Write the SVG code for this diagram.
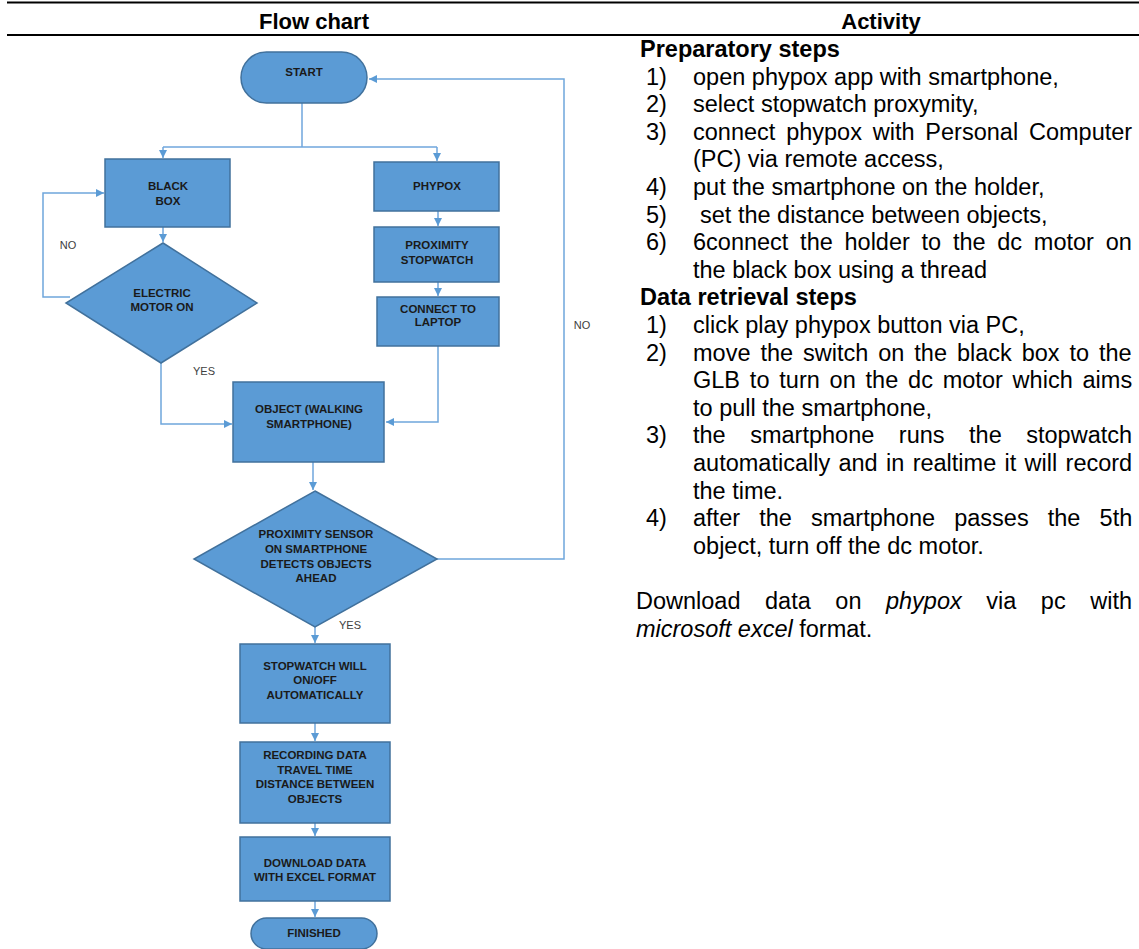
<svg xmlns="http://www.w3.org/2000/svg" width="1139" height="949" viewBox="0 0 1139 949">
<style>
.node{fill:#5B9BD5;stroke:#41719C;stroke-width:1.5}
.nt{font-family:"Liberation Sans",Arial,sans-serif;font-weight:bold;font-size:11.5px;fill:#1a1a1a;text-anchor:middle}
.lbl{font-family:"Liberation Sans",Arial,sans-serif;font-size:11px;fill:#404040;text-anchor:middle}
.con{fill:none;stroke:#6FA6DC;stroke-width:1.5}
.arr{marker-end:url(#ah)}
.hd{font-family:"Liberation Sans",Arial,sans-serif;font-weight:bold;font-size:22px;fill:#000;text-anchor:middle}
.tx{font-family:"Liberation Sans",Arial,sans-serif;font-size:23.5px;fill:#000}
.bd{font-weight:bold}
.rule{stroke:#000;stroke-width:2}
</style>
<defs>
<marker id="ah" markerUnits="userSpaceOnUse" markerWidth="9" markerHeight="9" refX="8" refY="4.5" orient="auto">
<path d="M0,0.5 L8,4.5 L0,8.5 z" fill="#5B9BD5"/>
</marker>
</defs>
<rect width="1139" height="949" fill="#fff"/>

<g id="table-header">
<line class="rule" x1="7" y1="2.5" x2="1139" y2="2.5"/>
<line class="rule" x1="7" y1="35" x2="1139" y2="35"/>
<text class="hd" x="314" y="29">Flow chart</text>
<text class="hd" x="881" y="29">Activity</text>
</g>

<g id="connectors">
<path class="con" d="M302,103 V147"/>
<path class="con" d="M163,147 H437"/>
<path class="con arr" d="M163,147 V158"/>
<path class="con arr" d="M437,147 V161"/>
<path class="con arr" d="M163,227 V242"/>
<path class="con arr" d="M70,297 H43 V193 H104"/>
<path class="con arr" d="M161,363 V424 H232"/>
<path class="con arr" d="M438,211 V226"/>
<path class="con arr" d="M438,282 V296"/>
<path class="con arr" d="M438,346 V422 H386"/>
<path class="con arr" d="M313,462 V490"/>
<path class="con arr" d="M437,559 H564 V79 H369"/>
<path class="con arr" d="M315,627 V643"/>
<path class="con arr" d="M315,723 V741"/>
<path class="con arr" d="M315,823 V836"/>
<path class="con arr" d="M315,901 V917"/>
<text class="lbl" x="68" y="249">NO</text>
<text class="lbl" x="204" y="375">YES</text>
<text class="lbl" x="582" y="329">NO</text>
<text class="lbl" x="350" y="629">YES</text>
</g>

<g id="start">
<rect class="node" x="241" y="52" width="126" height="51" rx="25.5"/>
<text class="nt" x="304" y="76">START</text>
</g>
<g id="black-box">
<rect class="node" x="105" y="159" width="125" height="68"/>
<text class="nt" x="168" y="190">BLACK</text>
<text class="nt" x="168" y="205">BOX</text>
</g>
<g id="phypox">
<rect class="node" x="374" y="162" width="125" height="49"/>
<text class="nt" x="437" y="190">PHYPOX</text>
</g>
<g id="proximity-stopwatch">
<rect class="node" x="374" y="227" width="125" height="55"/>
<text class="nt" x="437" y="249">PROXIMITY</text>
<text class="nt" x="437" y="264">STOPWATCH</text>
</g>
<g id="connect-laptop">
<rect class="node" x="377" y="297" width="122" height="49"/>
<text class="nt" x="438" y="313">CONNECT TO</text>
<text class="nt" x="438" y="326">LAPTOP</text>
</g>
<g id="electric-motor">
<polygon class="node" points="163,243 257,303 161,363 66,303"/>
<text class="nt" x="162" y="297">ELECTRIC</text>
<text class="nt" x="162" y="311">MOTOR ON</text>
</g>
<g id="object">
<rect class="node" x="233" y="382" width="151" height="80"/>
<text class="nt" x="309" y="413">OBJECT (WALKING</text>
<text class="nt" x="309" y="428">SMARTPHONE)</text>
</g>
<g id="proximity-sensor">
<polygon class="node" points="315,491 437,559 315,627 194,559"/>
<text class="nt" x="316" y="538">PROXIMITY SENSOR</text>
<text class="nt" x="316" y="553">ON SMARTPHONE</text>
<text class="nt" x="316" y="568">DETECTS OBJECTS</text>
<text class="nt" x="316" y="582">AHEAD</text>
</g>
<g id="stopwatch-auto">
<rect class="node" x="240" y="644" width="150" height="79"/>
<text class="nt" x="315" y="670">STOPWATCH WILL</text>
<text class="nt" x="315" y="684">ON/OFF</text>
<text class="nt" x="315" y="699">AUTOMATICALLY</text>
</g>
<g id="recording">
<rect class="node" x="240" y="742" width="150" height="81"/>
<text class="nt" x="315" y="759">RECORDING DATA</text>
<text class="nt" x="315" y="774">TRAVEL TIME</text>
<text class="nt" x="315" y="788">DISTANCE BETWEEN</text>
<text class="nt" x="315" y="803">OBJECTS</text>
</g>
<g id="download">
<rect class="node" x="240" y="837" width="150" height="64"/>
<text class="nt" x="315" y="867">DOWNLOAD DATA</text>
<text class="nt" x="315" y="881">WITH EXCEL FORMAT</text>
</g>
<g id="finished">
<rect class="node" x="251" y="918" width="126" height="31" rx="15.5"/>
<text class="nt" x="314" y="937">FINISHED</text>
</g>

<g id="activity">
<text class="tx bd" x="640" y="57">Preparatory steps</text>
<text class="tx" x="646" y="84.6">1)</text>
<text class="tx" x="693" y="84.6">open phypox app with smartphone,</text>
<text class="tx" x="646" y="112.2">2)</text>
<text class="tx" x="693" y="112.2">select stopwatch proxymity,</text>
<text class="tx" x="646" y="139.8">3)</text>
<text class="tx" x="693" y="139.8" word-spacing="4.3">connect phypox with Personal Computer</text>
<text class="tx" x="693" y="167.4">(PC) via remote access,</text>
<text class="tx" x="646" y="195">4)</text>
<text class="tx" x="693" y="195">put the smartphone on the holder,</text>
<text class="tx" x="646" y="222.6">5)</text>
<text class="tx" x="700" y="222.6">set the distance between objects,</text>
<text class="tx" x="646" y="250.2">6)</text>
<text class="tx" x="693" y="250.2" word-spacing="5.2">6connect the holder to the dc motor on</text>
<text class="tx" x="693" y="277.8">the black box using a thread</text>
<text class="tx bd" x="640" y="305.4">Data retrieval steps</text>
<text class="tx" x="646" y="333">1)</text>
<text class="tx" x="693" y="333">click play phypox button via PC,</text>
<text class="tx" x="646" y="360.6">2)</text>
<text class="tx" x="693" y="360.6" word-spacing="3.4">move the switch on the black box to the</text>
<text class="tx" x="693" y="388.2" word-spacing="3.3">GLB to turn on the dc motor which aims</text>
<text class="tx" x="693" y="415.8">to pull the smartphone,</text>
<text class="tx" x="646" y="443.4">3)</text>
<text class="tx" x="693" y="443.4" word-spacing="18">the smartphone runs the stopwatch</text>
<text class="tx" x="693" y="471" word-spacing="1.8">automatically and in realtime it will record</text>
<text class="tx" x="693" y="498.6">the time.</text>
<text class="tx" x="646" y="526.2">4)</text>
<text class="tx" x="693" y="526.2" word-spacing="12.6">after the smartphone passes the 5th</text>
<text class="tx" x="693" y="553.8">object, turn off the dc motor.</text>
<text class="tx" x="636" y="609" word-spacing="18">Download data on <tspan font-style="italic">phypox</tspan> via pc with</text>
<text class="tx" x="636" y="636.6"><tspan font-style="italic">microsoft excel</tspan> format.</text>
</g>
</svg>
